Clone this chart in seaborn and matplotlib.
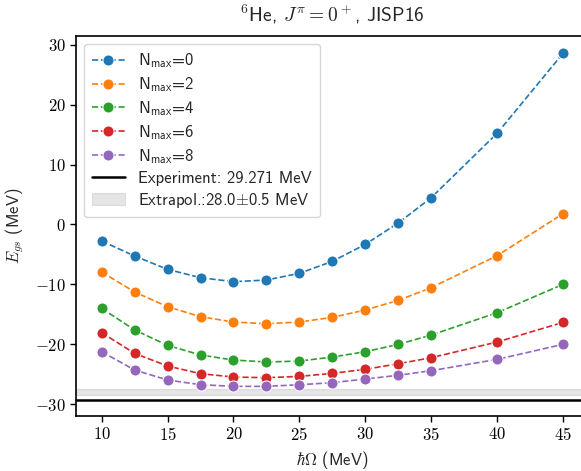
import numpy as np
import pandas as pd
import matplotlib
matplotlib.use("Agg")
import matplotlib.pyplot as plt
from matplotlib.ticker import FuncFormatter
from matplotlib.patches import Patch
from matplotlib.lines import Line2D
import seaborn as sns

hw = [10, 12.5, 15, 17.5, 20, 22.5, 25, 27.5, 30, 32.5, 35, 40, 45]
E_n0 = [-2.76, -5.27, -7.5, -8.89, -9.56, -9.28, -8.16, -6.16, -3.32, 0.25, 4.48, 15.24, 28.6]
E_n2 = [-7.94, -11.28, -13.74, -15.41, -16.30, -16.58, -16.30, -15.52, -14.29, -12.68, -10.56, -5.21, 1.8]
E_n4 = [-14.02, -17.63, -20.2, -21.81, -22.65, -22.98, -22.82, -22.15, -21.26, -20.03, -18.47, -14.74, -10.0]
E_n6 = [-18.08, -21.54, -23.65, -24.93, -25.49, -25.6, -25.38, -24.88, -24.2, -23.27, -22.26, -19.64, -16.36]
E_n8 = [-21.26, -24.32, -25.99, -26.77, -27.05, -27.05, -26.77, -26.44, -25.82, -25.2, -24.43, -22.54, -20.03]
series_labels = [r"N$_{\mathsf{max}}$=0", r"N$_{\mathsf{max}}$=2", r"N$_{\mathsf{max}}$=4",
                 r"N$_{\mathsf{max}}$=6", r"N$_{\mathsf{max}}$=8"]
experiment = -29.271
extrap_center = -28.0
extrap_err = 0.5

sns.set_theme(style="ticks")
plt.rcParams["font.family"] = ["cmss10", "DejaVu Sans"]
plt.rcParams["mathtext.fontset"] = "cm"
plt.rcParams["axes.unicode_minus"] = True

rows = []
for lab, vals in zip(series_labels, [E_n0, E_n2, E_n4, E_n6, E_n8]):
    for x, y in zip(hw, vals):
        rows.append({"hw": x, "E": y, "series": lab})
df = pd.DataFrame(rows)

palette = sns.color_palette("tab10", 5)

fig = plt.figure(figsize=(5.81, 4.71), dpi=100)
ax = fig.add_axes([0.1308, 0.1168, 0.8836, 0.8074])

ax.axhspan(extrap_center - extrap_err, extrap_center + extrap_err, color="gray", alpha=0.2, lw=0.8, zorder=1)
sns.lineplot(data=df, x="hw", y="E", hue="series", hue_order=series_labels, palette=palette,
             marker="o", markersize=8, linestyle="--", linewidth=1.2, legend=False, ax=ax, zorder=3)
ax.axhline(experiment, color="black", lw=1.8, zorder=2)

ax.set_xlim(8.05, 47.0)
ax.set_ylim(-32.0, 31.55)
ax.set_xticks([10, 15, 20, 25, 30, 35, 40, 45])
ax.set_yticks([-30, -20, -10, 0, 10, 20, 30])
fmt = FuncFormatter(lambda v, p: r"$%d$" % v)
ax.xaxis.set_major_formatter(fmt)
ax.yaxis.set_major_formatter(fmt)
ax.tick_params(labelsize=12, length=4, width=1, colors="black")
for s in ax.spines.values():
    s.set_color("black")
    s.set_linewidth(1.2)

ax.set_xlabel(r"$\hbar\Omega$ (MeV)", fontsize=12, labelpad=4)
ax.set_ylabel(r"$E_{gs}$ (MeV)", fontsize=12, labelpad=6)
ax.set_title(r"$^6$He, $J^\pi=0^+$, JISP16", fontsize=14, pad=10)

handles = []
for i, lab in enumerate(series_labels):
    handles.append(Line2D([], [], color=palette[i], ls="--", lw=1.2, marker="o", markersize=8,
                          markeredgecolor="white", markeredgewidth=0.75))
handles.append(Line2D([], [], color="black", lw=1.8))
handles.append(Patch(facecolor="gray", alpha=0.2, edgecolor="gray", lw=0.8))
labels = series_labels + ["Experiment: 29.271 MeV", r"Extrapol.:28.0$\pm$0.5 MeV"]
ax.legend(handles, labels, loc="upper left", fontsize=12, frameon=True, handlelength=2.0,
          labelspacing=0.3, borderpad=0.45)

fig.savefig("out.png", dpi=100)
